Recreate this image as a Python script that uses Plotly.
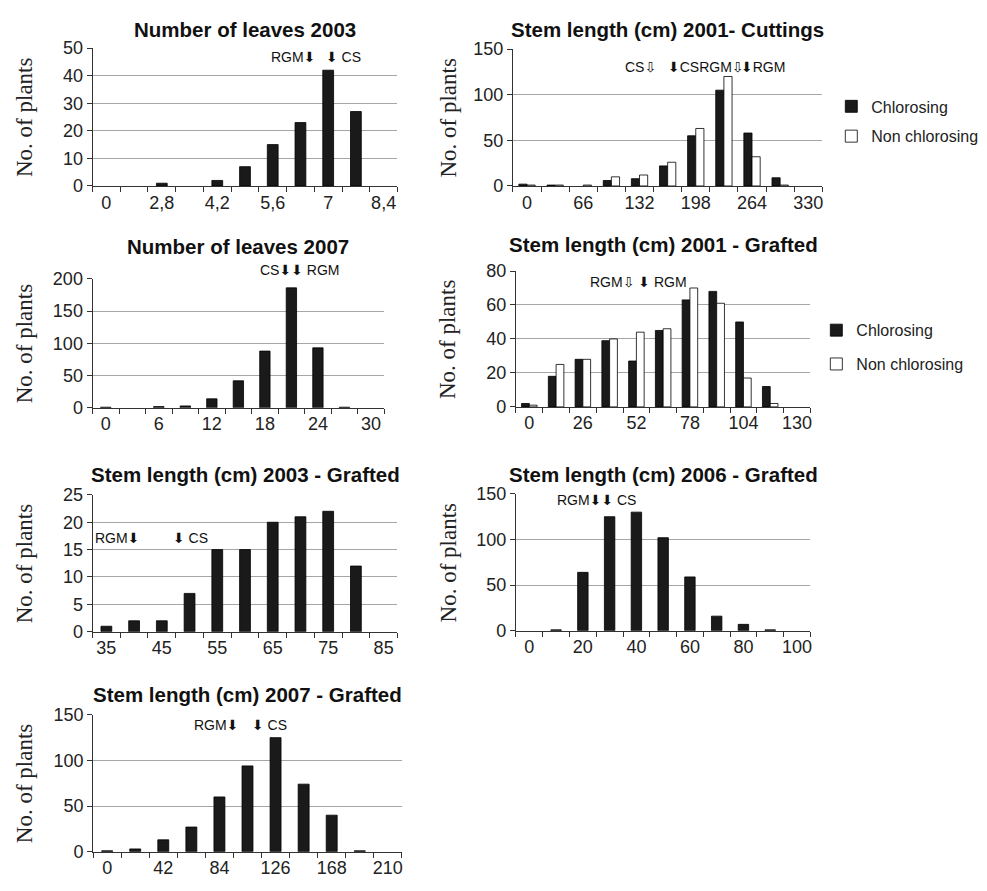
import plotly.graph_objects as go

W, H = 987, 891

# ---------------- data ----------------
leaves2003_ticks = ["0", "2,8", "4,2", "5,6", "7", "8,4"]
leaves2003_counts = [0, 0, 1, 0, 2, 7, 15, 23, 42, 27, 0]

cut2001_ticks = ["0", "66", "132", "198", "264", "330"]
cut2001_chlor = [2, 1, 0, 6, 8, 22, 55, 105, 58, 9, 0]
cut2001_nonchlor = [1, 1, 1, 10, 12, 26, 63, 120, 32, 1, 0]

leaves2007_ticks = ["0", "6", "12", "18", "24", "30"]
leaves2007_counts = [1, 0, 2, 3, 14, 42, 88, 186, 93, 1, 0]

graft2001_ticks = ["0", "26", "52", "78", "104", "130"]
graft2001_chlor = [2, 18, 28, 39, 27, 45, 63, 68, 50, 12, 0]
graft2001_nonchlor = [1, 25, 28, 40, 44, 46, 70, 61, 17, 2, 0]

graft2003_ticks = ["35", "45", "55", "65", "75", "85"]
graft2003_counts = [1, 2, 2, 7, 15, 15, 20, 21, 22, 12, 0]

graft2006_ticks = ["0", "20", "40", "60", "80", "100"]
graft2006_counts = [0, 1, 64, 125, 130, 102, 59, 16, 7, 1, 0]

graft2007_ticks = ["0", "42", "84", "126", "168", "210"]
graft2007_counts = [1, 3, 13, 27, 60, 94, 125, 74, 40, 1, 0]

titles = ["Number of leaves 2003", "Stem length (cm) 2001- Cuttings",
          "Number of leaves 2007", "Stem length (cm) 2001 - Grafted",
          "Stem length (cm) 2003 - Grafted", "Stem length (cm) 2006 - Grafted",
          "Stem length (cm) 2007 - Grafted"]

# ---------------- layout helpers ----------------
SANS = "Liberation Sans, Arial, DejaVu Sans, sans-serif"
SERIF = "Liberation Serif, Times New Roman, serif"
BLACK = "#1a1a1a"
AXC = "#333333"
GRID = "#a6a6a6"

# pixel boxes: (x0, x1, ytop, ybottom)
boxes = [
    (92.7, 398.3, 39, 180),
    (514, 824, 40, 180),
    (92.7, 385, 275, 407),
    (517, 812, 267, 406),
    (92.7, 398.3, 496, 636),
    (517, 812, 495, 635),
    (93.3, 402.7, 721, 861),
]
yranges = [(50, 10), (150, 50), (200, 50), (80, 20), (25, 5), (150, 50), (150, 50)]
tick_sets = [leaves2003_ticks, cut2001_ticks, leaves2007_ticks, graft2001_ticks,
             graft2003_ticks, graft2006_ticks, graft2007_ticks]
title_y = [20, 20, 242, 240, 475, 475, 700]

fig = go.Figure()
n = 11
idx = list(range(n))

def ax_name(i, kind):
    return kind + ("" if i == 0 else str(i + 1))

def ref(i, kind):
    return kind + ("" if i == 0 else str(i + 1))

def outline(vals):
    return [0 if v == 0 else 0.8 for v in vals]

single = {0: leaves2003_counts, 2: leaves2007_counts, 4: graft2003_counts,
          5: graft2006_counts, 6: graft2007_counts}
for i, vals in single.items():
    fig.add_trace(go.Bar(x=idx, y=vals, width=0.39,
                         marker=dict(color=BLACK, line=dict(color="black", width=outline(vals))),
                         xaxis=ref(i, "x"), yaxis=ref(i, "y"), showlegend=False, hoverinfo="skip"))

pairs = {1: (cut2001_chlor, cut2001_nonchlor, "legend"), 3: (graft2001_chlor, graft2001_nonchlor, "legend2")}
for i, (ch, nc, lg) in pairs.items():
    fig.add_trace(go.Bar(x=idx, y=ch, width=0.29, offset=-0.29, name="Chlorosing", legend=lg,
                         legendgroup="c" + lg,
                         marker=dict(color=BLACK, line=dict(color="black", width=outline(ch))),
                         xaxis=ref(i, "x"), yaxis=ref(i, "y"), hoverinfo="skip"))
    fig.add_trace(go.Bar(x=idx, y=nc, width=0.29, offset=0.0, name="Non chlorosing", legend=lg,
                         legendgroup="n" + lg,
                         marker=dict(color="white", line=dict(color="black", width=outline(nc))),
                         xaxis=ref(i, "x"), yaxis=ref(i, "y"), hoverinfo="skip"))

layout = dict(width=W, height=H, margin=dict(l=0, r=0, t=0, b=0),
              plot_bgcolor="white", paper_bgcolor="white", barmode="overlay",
              font=dict(family=SANS, size=18, color="#222"))

annotations = []
for i, (x0, x1, yt, yb) in enumerate(boxes):
    xa = ax_name(i, "xaxis")
    ya = ax_name(i, "yaxis")
    ymax, dt = yranges[i]
    labels = tick_sets[i]
    layout[xa] = dict(domain=[x0 / W, x1 / W], anchor=ref(i, "y"), range=[-0.5, n - 0.5],
                      tickmode="array", tickvals=[0, 2, 4, 6, 8, 10], ticktext=labels,
                      ticks="", showline=True, linecolor=AXC, linewidth=1, showgrid=False,
                      zeroline=False, fixedrange=True,
                      tickfont=dict(size=18, family=SANS, color="#222"),
                      minor=dict(tickmode="array", tickvals=[k - 0.5 for k in range(n + 1)],
                                 ticks="outside", ticklen=5, tickcolor=AXC, tickwidth=1, showgrid=False))
    layout[ya] = dict(domain=[(H - yb) / H, (H - yt) / H], anchor=ref(i, "x"), range=[0, ymax],
                      tickmode="linear", tick0=0, dtick=dt, ticks="outside", ticklen=5,
                      tickcolor=AXC, showline=True, linecolor=AXC, linewidth=1,
                      showgrid=True, gridcolor=GRID, gridwidth=1, zeroline=False, fixedrange=True,
                      tickfont=dict(size=18, family=SANS, color="#222"))
    annotations.append(dict(text="<b>" + titles[i] + "</b>", xref="paper", yref="paper",
                            x=(x0 + x1) / 2 / W, y=(H - title_y[i]) / H, showarrow=False,
                            xanchor="center", yanchor="middle",
                            font=dict(family=SANS, size=20.5, color="#111")))
    tx = 24 if x0 < 300 else 449
    annotations.append(dict(text="No. of plants", xref="paper", yref="paper", textangle=-90,
                            x=tx / W, y=(H - (yt + yb) / 2) / H, showarrow=False,
                            xanchor="center", yanchor="middle",
                            font=dict(family=SERIF, size=23, color="#222")))

# mean markers (arrows): (panel, text, x index, y position as fraction of the y-axis domain, xanchor)
marks = [
    (0, "RGM⬇", 7.6, 0.936, "right"),
    (0, "⬇ CS", 7.86, 0.936, "left"),
    (1, "CS⇩", 3.4, 0.871, "left"),
    (1, "⬇CSRGM⇩", 4.93, 0.871, "left"),
    (1, "⬇RGM", 7.55, 0.871, "left"),
    (2, "CS⬇⬇ RGM", 7.3, 1.07, "center"),
    (3, "RGM⇩ ⬇ RGM", 4.09, 0.921, "center"),
    (4, "RGM⬇", 0.37, 0.685, "center"),
    (4, "⬇ CS", 3.02, 0.685, "center"),
    (5, "RGM⬇⬇ CS", 2.52, 0.952, "center"),
    (6, "RGM⬇", 3.88, 0.923, "center"),
    (6, "⬇ CS", 5.79, 0.923, "center"),
]
for p, t, xv, yv, anc in marks:
    annotations.append(dict(text=t, xref=ref(p, "x"), yref=ref(p, "y") + " domain", x=xv, y=yv,
                            showarrow=False, xanchor=anc, yanchor="middle",
                            font=dict(family=SANS, size=14, color="#111")))

layout["annotations"] = annotations
legend_common = dict(xanchor="left", yanchor="middle", bgcolor="rgba(0,0,0,0)",
                     font=dict(family=SANS, size=16, color="#222"),
                     itemclick=False, itemdoubleclick=False)
layout["legend"] = dict(x=833 / W, y=(H - 114) / H, tracegroupgap=6, **legend_common)
layout["legend2"] = dict(x=818 / W, y=(H - 345) / H, tracegroupgap=10, **legend_common)

fig.update_layout(**layout)
fig.write_html("out.html", config={"displayModeBar": False, "staticPlot": True},
               post_script="document.body.style.margin='0';document.body.style.padding='0';"
                           "document.documentElement.style.overflow='hidden';")
